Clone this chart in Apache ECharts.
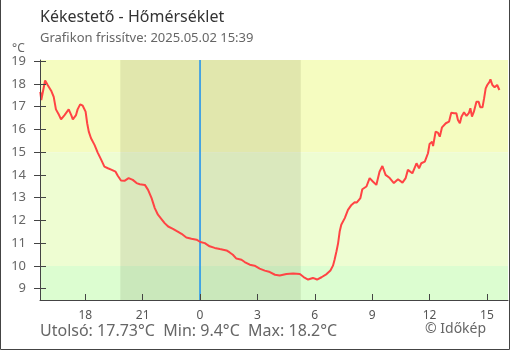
<!DOCTYPE html>
<html>
<head>
<meta charset="utf-8">
<script src="https://cdn.jsdelivr.net/npm/echarts@6/dist/echarts.min.js"></script>
<style>
  html, body { margin: 0; padding: 0; background: #fff; }
  #chart { width: 510px; height: 350px; }
</style>
</head>
<body>
<div id="chart"></div>
<script>
// Temperature readings, previous evening (2025.05.01)
const day1Times = ['15:39','15:42','15:54','16:02','16:13','16:21','16:28','16:36','16:44','16:55',
  '17:00','17:08','17:16','17:21','17:31','17:36','17:44','17:52','18:01','18:06','18:11','18:18',
  '18:29','18:39','18:49','19:00','19:11','19:23','19:35','19:42','19:52','20:03','20:16','20:20',
  '20:29','20:41','20:51','21:07','21:17','21:28','21:38','21:48','21:59','22:09','22:20','22:35',
  '22:46','23:02','23:17','23:33','23:49'];
const day1Temps = [17.65,17.29,18.15,17.95,17.70,17.43,16.88,16.68,16.44,16.63,
  16.59,16.88,16.63,16.44,16.63,16.88,17.10,17.04,16.78,16.27,15.90,15.61,
  15.32,14.98,14.69,14.36,14.29,14.22,14.14,13.96,13.75,13.74,13.86,13.88,
  13.78,13.64,13.59,13.56,13.34,12.98,12.54,12.25,12.06,11.88,11.73,11.63,
  11.54,11.41,11.25,11.19,11.15];

// Temperature readings, current day (2025.05.02)
const day2Times = ['00:01','00:15','00:30','00:46','01:02','01:23','01:33','01:43','01:54','02:10',
  '02:20','02:36','02:51','03:07','03:23','03:39','03:55','04:10','04:31','04:52','05:13','05:25',
  '05:39','05:54','06:07','06:21','06:37','06:49','06:57','07:02','07:08','07:13','07:18','07:23',
  '07:34','07:44','07:55','08:05','08:12','08:23','08:29','08:42','08:52','09:02','09:13','09:23',
  '09:32','09:42','09:55','10:08','10:21','10:35','10:45','10:52','11:06','11:19','11:27','11:34',
  '11:45','11:55','12:00','12:08','12:11','12:19','12:26','12:32','12:39','12:51','13:01','13:08',
  '13:17','13:24','13:29','13:35','13:40','13:48','13:56','14:03','14:08','14:13','14:19','14:27',
  '14:34','14:39','14:46','14:51','14:56','15:01','15:08','15:11','15:17','15:24','15:32','15:39'];
const day2Temps = [11.05,11.00,10.86,10.79,10.74,10.68,10.59,10.49,10.32,10.27,
  10.17,10.05,10.01,9.88,9.79,9.73,9.61,9.58,9.64,9.66,9.64,9.51,
  9.40,9.47,9.40,9.50,9.64,9.80,10.01,10.27,10.64,10.99,11.51,11.81,
  12.10,12.46,12.68,12.80,12.79,12.98,13.37,13.49,13.86,13.71,13.56,14.14,
  14.39,14.00,13.86,13.64,13.81,13.66,13.86,14.22,14.07,14.51,14.29,14.51,
  14.58,14.95,15.36,15.46,15.27,15.90,15.86,15.68,16.09,16.27,16.34,16.73,
  16.71,16.71,16.41,16.27,16.56,16.75,16.59,16.71,16.93,16.56,16.78,17.21,
  17.21,16.97,16.97,17.36,17.80,17.95,18.09,18.20,17.95,17.85,17.95,17.73];

// Axis ticks (hours of day) and temperature ticks
const hourTicks = [18, 21, 0, 3, 6, 9, 12, 15];
const tempTicks = [9, 10, 11, 12, 13, 14, 15, 16, 17, 18, 19];

// Night (sunset / sunrise), midnight marker and colour bands in °C
const sunset = '19:50';
const sunrise = '05:16';
const midnight = '00:00';
const bandLimits = [8.5, 10, 15, 19.05];

const titleText = 'Kékestető - Hőmérséklet';
const subtitleText = 'Grafikon frissítve: 2025.05.02 15:39';

// clock time -> hours relative to midnight of the current day
function toHours(t, prevDay) {
  const [h, m] = t.split(':').map(Number);
  return h + m / 60 - (prevDay ? 24 : 0);
}

const lineData = [];
day1Times.forEach((t, i) => lineData.push([toHours(t, true), day1Temps[i]]));
day2Times.forEach((t, i) => lineData.push([toHours(t, false), day2Temps[i]]));

const allTemps = day1Temps.concat(day2Temps);
const lastTemp = allTemps[allTemps.length - 1];
const minTemp = Math.min(...allTemps);
const maxTemp = Math.max(...allTemps);
const fmt = v => String(Number(v.toFixed(2)));

const xTicks = hourTicks.map(h => (h > 15 ? h - 24 : h));
const FONT = 'Noto Sans';

const chart = echarts.init(document.getElementById('chart'), null, { renderer: 'canvas' });

const yAxisBase = {
  type: 'value', min: bandLimits[0], max: bandLimits[3], z: 5,
  splitLine: { show: false }
};

chart.setOption({
  animation: false,
  textStyle: { fontFamily: FONT },
  grid: { left: 40, right: 2, top: 60, bottom: 50 },
  xAxis: {
    type: 'value',
    min: toHours('15:38', true),
    max: toHours('16:06', false),
    z: 5,
    splitLine: { show: false },
    axisLine: { onZero: false, lineStyle: { color: '#444', width: 1 } },
    axisTick: { inside: true, length: 6, lineStyle: { color: '#444' }, customValues: xTicks },
    axisLabel: {
      customValues: xTicks, color: '#555', fontSize: 12, margin: 10, fontFamily: FONT,
      formatter: v => String(((Math.round(v) % 24) + 24) % 24)
    }
  },
  yAxis: [
    Object.assign({}, yAxisBase, {
      axisLine: { show: true, onZero: false, lineStyle: { color: '#444', width: 1 } },
      axisTick: { show: true, length: 6, lineStyle: { color: '#444' }, customValues: tempTicks },
      axisLabel: { customValues: tempTicks, color: '#666', fontSize: 13, margin: 14, fontFamily: FONT }
    }),
    Object.assign({}, yAxisBase, {
      position: 'left',
      axisLine: { show: false, onZero: false },
      axisTick: { show: true, inside: true, length: 6, lineStyle: { color: '#444' }, customValues: tempTicks },
      axisLabel: { show: false }
    })
  ],
  series: [
    {
      // background bands and night shading
      type: 'line',
      data: lineData,
      symbol: 'none',
      z: 1,
      silent: true,
      lineStyle: { opacity: 0 },
      markArea: {
        silent: true,
        data: [
          [{ yAxis: bandLimits[2], itemStyle: { color: '#f5fcc0' } }, { yAxis: bandLimits[3] }],
          [{ yAxis: bandLimits[1], itemStyle: { color: '#eefdd2' } }, { yAxis: bandLimits[2] }],
          [{ yAxis: bandLimits[0], itemStyle: { color: '#dcfdd0' } }, { yAxis: bandLimits[1] }],
          [{ xAxis: toHours(sunset, true), itemStyle: { color: 'rgba(60,60,20,0.11)' } },
           { xAxis: toHours(sunrise, false) }]
        ]
      }
    },
    {
      // midnight marker
      type: 'line',
      data: [[toHours(midnight, false), bandLimits[0]], [toHours(midnight, false), bandLimits[3]]],
      symbol: 'none',
      z: 2,
      silent: true,
      lineStyle: { color: '#1a90f0', width: 1.5 }
    },
    {
      type: 'line',
      data: lineData,
      symbol: 'none',
      z: 3,
      lineStyle: { color: '#ff4444', width: 2 }
    }
  ],
  graphic: [
    { type: 'text', left: 40, top: 9,
      style: { text: titleText, fill: '#333', font: '16px "Noto Sans"' } },
    { type: 'text', left: 40, top: 32,
      style: { text: subtitleText, fill: '#666', font: '13px "Noto Sans"' } },
    { type: 'text', left: 12, top: 43,
      style: { text: '°C', fill: '#666', font: '12px "Noto Sans"' } },
    { type: 'text', left: 40, top: 323,
      style: {
        text: 'Utolsó: ' + fmt(lastTemp) + '°C  Min: ' + fmt(minTemp) + '°C  Max: ' + fmt(maxTemp) + '°C',
        fill: '#666', font: '16px "Noto Sans"'
      } },
    { type: 'text', left: 425, top: 322,
      style: { text: '© Időkép', fill: '#666', font: '14px "Noto Sans"' } },
    { type: 'polyline', silent: true,
      shape: { points: [[0.5, 0], [0.5, 349.5], [509.5, 349.5], [509.5, 0]] },
      style: { stroke: '#444', lineWidth: 1, fill: null } }
  ]
});
</script>
</body>
</html>
